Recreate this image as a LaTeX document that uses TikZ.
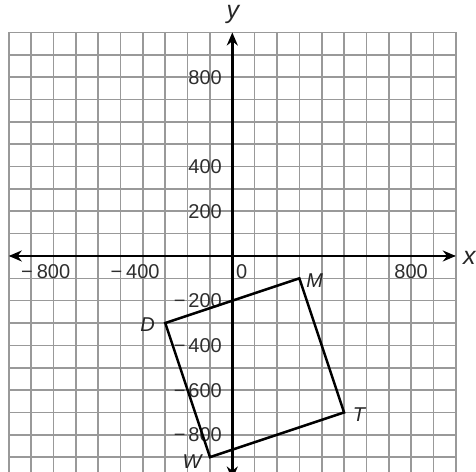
\documentclass[tikz,border=0pt]{standalone}
\usepackage{fontspec}
\setmainfont{Liberation Sans}
\usetikzlibrary{arrows.meta}
\tikzset{
  gridline/.style={draw=black!40, line width=1.6pt},
  axisline/.style={line width=2.6pt, {Stealth[length=13pt,width=11pt]}-{Stealth[length=13pt,width=11pt]}},
  figline/.style={line width=2.5pt, line join=miter},
  numlab/.style={inner sep=0pt, text=black!82, font=\fontsize{20}{24}\selectfont},
  ptlab/.style={inner sep=0pt, text=black!85, font=\fontsize{20}{24}\selectfont\itshape},
  axlab/.style={inner sep=0pt, text=black!85, font=\fontsize{25}{30}\selectfont\itshape}
}
\begin{document}
\begin{tikzpicture}[x=22.35pt,y=22.35pt]
\useasboundingbox (-10.394,-9.664) rectangle (10.904,11.454);
\clip (-10.394,-9.664) rectangle (10.904,11.454);
% grid
\foreach \i in {-10,...,10} {
  \draw[gridline] (\i,-10.2) -- (\i,10);
  \draw[gridline] (-10,\i) -- (10,\i);
}
% axes
\coordinate (xl) at (-10,0);
\coordinate (xr) at (10,0);
\coordinate (yb) at (0,-10);
\coordinate (yt) at (0,10);
\draw[axisline] (xl) -- (xr);
\draw[axisline] (yb) -- (yt);
\node[axlab, anchor=base] (xlab) at (10.61,-0.40) {x};
\node[axlab, anchor=base] (ylab) at (0.03,10.62) {y};
% x-axis numbers
\node[numlab, anchor=base] (xm800) at (-8,-1) {\llap{−\hspace{4pt}}800};
\node[numlab, anchor=base] (xm400) at (-4,-1) {\llap{−\hspace{4pt}}400};
\node[numlab, anchor=base] (x0) at (0.42,-1) {0};
\node[numlab, anchor=base] (x800) at (8,-1) {800};
% y-axis numbers
\foreach \v/\t in {8/800,4/400,2/200} {
  \node[numlab, anchor=base east] (y\t) at (-0.46,\v-0.32) {\t};
}
\foreach \v/\t in {-2/200,-4/400,-6/600,-8/800} {
  \node[numlab, anchor=base east] (ym\t) at (-0.46,\v-0.32) {−\hspace{3pt}\t};
}
% square
\coordinate (D) at (-3,-3);
\coordinate (M) at (3,-1);
\coordinate (T) at (5,-7);
\coordinate (W) at (-1,-9);
\draw[figline] (D) -- (M) -- (T) -- (W) -- cycle;
\node[ptlab, anchor=east] (Dl) at (-3.46,-3.06) {D};
\node[ptlab, anchor=west] (Ml) at (3.30,-1.12) {M};
\node[ptlab, anchor=west] (Tl) at (5.39,-7.11) {T};
\node[ptlab, anchor=north] (Wl) at (-1.80,-8.88) {W};
\end{tikzpicture}
\end{document}
